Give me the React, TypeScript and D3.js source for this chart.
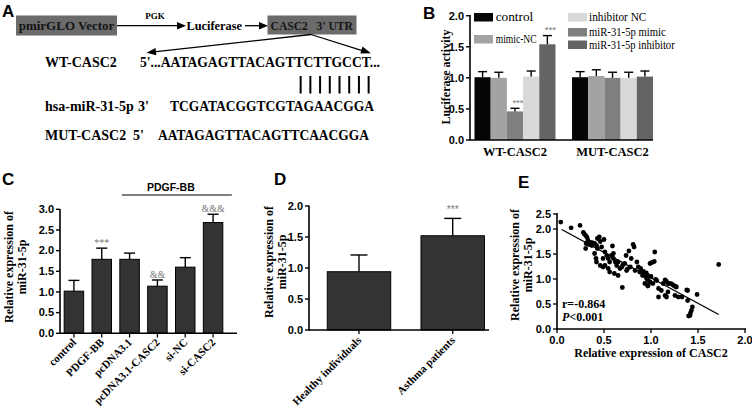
import React from "react";
import * as d3 from "d3";

const SERIF = "'Liberation Serif','Times New Roman',serif";
const SANS = "'Liberation Sans',Arial,sans-serif";

// ---------- Panel A ----------
const seqNames = ["WT-CASC2", "hsa-miR-31-5p", "MUT-CASC2"];
const seqPrimes = ["", "3'", "5'"];
const seqTexts = ["5'...AATAGAGTTACAGTTCTTGCCT...", "TCGATACGGTCGTAGAACGGA", "AATAGAGTTACAGTTCAACGGA"];
const pairedIdx = [13, 14, 15, 16, 17, 18, 19, 20];

// ---------- Panel B ----------
const bGroups = ["WT-CASC2", "MUT-CASC2"];
const bSeries = ["control", "mimic-NC", "miR-31-5p mimic", "inhibitor NC", "miR-31-5p inhibitor"];
const bColors = ["#050505", "#a3a3a3", "#7f7f7f", "#d9d9d9", "#646464"];
const bWT = [1.01, 1.0, 0.46, 1.02, 1.54];
const bWTErr = [0.09, 0.09, 0.05, 0.09, 0.14];
const bMUT = [1.01, 1.03, 1.0, 1.0, 1.02];
const bMUTErr = [0.09, 0.1, 0.09, 0.09, 0.09];
const bWTSig = ["", "", "***", "", "***"];
const bTicks = [0, 0.5, 1, 1.5, 2];

// ---------- Panel C ----------
const cCats = ["control", "PDGF-BB", "pcDNA3.1", "pcDNA3.1-CASC2", "si-NC", "si-CASC2"];
const cVals = [1.02, 1.79, 1.79, 1.14, 1.6, 2.68];
const cErr = [0.26, 0.27, 0.15, 0.15, 0.23, 0.2];
const cSig = ["", "***", "", "&&", "", "&&&"];
const cTicks = [0, 0.5, 1, 1.5, 2, 2.5, 3];

// ---------- Panel D ----------
const dCats = ["Healthy individuals", "Asthma patients"];
const dVals = [0.94, 1.52];
const dErr = [0.27, 0.28];
const dSig = ["", "***"];
const dTicks = [0, 0.5, 1, 1.5, 2];

// ---------- Panel E ----------
const eX = [0.04, 0.15, 0.245, 0.28, 0.305, 0.32, 0.31, 0.305, 0.34, 0.37, 0.4, 0.42, 0.45, 0.46, 0.5, 0.475, 0.4, 0.415, 0.42, 0.51, 0.53, 0.51, 0.49, 0.545, 0.59, 0.58, 0.6, 0.62, 0.61, 0.65, 0.635, 0.69, 0.695, 0.72, 0.735, 0.765, 0.81, 0.82, 0.79, 0.78, 0.83, 0.85, 0.865, 0.89, 0.92, 0.935, 0.955, 0.99, 0.56, 0.46,
  1.04, 1.01, 1.035, 0.935, 0.955, 0.99, 0.97, 1.02, 1.06, 1.08, 1.08, 1.11, 1.13, 1.165, 1.2, 1.24, 1.27, 1.15, 1.18, 1.165, 1.255, 1.29, 1.33, 1.39, 1.39, 1.49, 1.44, 1.43, 1.42, 1.415, 1.4, 1.72,
  0.33, 0.36, 0.43, 0.545, 0.56, 0.65, 0.67, 0.74, 0.88, 0.91, 0.97, 0.6, 0.49, 0.43, 0.965, 0.935, 0.965, 1.15, 1.18, 1.26, 1.38, 0.29, 0.38, 0.7, 0.75, 0.95, 1.0, 1.05, 1.22];
const eY = [2.23, 2.04, 2.12, 1.93, 1.87, 1.83, 1.71, 1.61, 1.69, 1.67, 1.71, 1.67, 1.84, 1.75, 1.79, 1.64, 1.51, 1.41, 1.34, 1.54, 1.47, 1.27, 1.24, 1.21, 1.66, 1.47, 1.41, 1.34, 1.11, 1.07, 1.27, 1.24, 0.83, 1.31, 1.47, 1.56, 1.69, 1.64, 1.41, 1.24, 1.17, 1.34, 1.24, 1.21, 1.15, 1.07, 1.01, 1.31, 1.14, 1.27,
  1.54, 1.33, 1.35, 1.11, 1.01, 0.94, 0.87, 0.91, 0.97, 0.81, 0.64, 0.77, 0.91, 0.95, 0.91, 0.87, 0.84, 0.67, 0.74, 0.64, 0.67, 0.64, 0.64, 0.77, 0.57, 0.69, 0.44, 0.37, 0.32, 0.27, 0.26, 1.29,
  1.77, 1.73, 1.61, 1.41, 1.34, 1.34, 1.21, 1.17, 1.14, 1.07, 0.97, 1.51, 1.41, 1.81, 1.07, 0.91, 0.86, 0.98, 0.91, 0.85, 0.78, 1.9, 1.72, 1.28, 1.2, 1.12, 1.05, 0.99, 0.9];
const eFitX = [0.05, 1.72];
const eFitY = [1.99, 0.29];
const eXTicks = [0, 0.5, 1, 1.5, 2];
const eYTicks = [0, 0.5, 1, 1.5, 2, 2.5];

const fmt = d3.format(".1f");

function YAxis({ x, y, ticks, yTop, yBot }: { x: number; y: any; ticks: number[]; yTop: number; yBot: number }) {
  return (
    <g>
      <line x1={x} x2={x} y1={yTop} y2={yBot} stroke="#000" strokeWidth={1.6} />
      {ticks.map((t) => (
        <g key={t}>
          <line x1={x - 4} x2={x} y1={y(t)} y2={y(t)} stroke="#000" strokeWidth={1.4} />
          <text x={x - 6} y={y(t)} dy="0.35em" textAnchor="end" fontFamily={SANS} fontWeight="bold" fontSize={11}>
            {fmt(t)}
          </text>
        </g>
      ))}
    </g>
  );
}

function ErrBar({ cx, y0, y1, w }: { cx: number; y0: number; y1: number; w: number }) {
  return (
    <g stroke="#000" strokeWidth={1.4}>
      <line x1={cx} x2={cx} y1={y0} y2={y1} />
      <line x1={cx - w / 2} x2={cx + w / 2} y1={y1} y2={y1} />
    </g>
  );
}

function PanelA() {
  const seqX = [140, 170, 158];
  const seqW = [240, 204, 211];
  const baselines = [66.5, 110.5, 139.5];
  const primeX = [0, 138, 133];
  const charX = d3.scaleLinear().domain([0, seqTexts[1].length]).range([seqX[1], seqX[1] + seqW[1]]);
  return (
    <g fontFamily={SERIF} fontWeight="bold">
      <text x={2} y={17} fontFamily={SANS} fontWeight="bold" fontSize={17}>A</text>
      <rect x={16} y={15.5} width={101} height={20} fill="#6b6b6b" />
      <text x={66.5} y={30} textAnchor="middle" fontSize={13} fill="#151515">pmirGLO Vector</text>
      <line x1={117} x2={179} y1={25.7} y2={25.7} stroke="#000" strokeWidth={1.3} />
      <path d="M186,25.7 L177,22 L177,29.4 Z" fill="#000" />
      <text x={155} y={19} textAnchor="middle" fontSize={9}>PGK</text>
      <text x={186.5} y={30} fontSize={13} textLength={55.5} lengthAdjust="spacingAndGlyphs">Luciferase</text>
      <line x1={245} x2={261} y1={25.7} y2={25.7} stroke="#000" strokeWidth={1.3} />
      <path d="M268,25.7 L259,22 L259,29.4 Z" fill="#000" />
      <rect x={267.5} y={15.5} width={89} height={19} fill="#6b6b6b" />
      <text x={270.5} y={30} fontSize={13} fill="#151515" textLength={82.5} lengthAdjust="spacingAndGlyphs" xmlSpace="preserve">CASC2   3' UTR</text>
      <line x1={311} y1={34.5} x2={154} y2={51.8} stroke="#000" strokeWidth={1.3} />
      <path d="M146.5,52.8 L155.5,48 L156.3,55.3 Z" fill="#000" />
      <line x1={311} y1={34.5} x2={363} y2={50.8} stroke="#000" strokeWidth={1.3} />
      <path d="M371,53.3 L362.5,46.5 L360.4,53.5 Z" fill="#000" />
      {seqNames.map((n, i) => (
        <g key={n}>
          <text x={45} y={baselines[i]} fontSize={14}>{n}</text>
          {seqPrimes[i] && (
            <text x={primeX[i]} y={baselines[i]} fontSize={14}>{seqPrimes[i]}</text>
          )}
          <text x={seqX[i]} y={baselines[i]} fontSize={14} textLength={seqW[i]} lengthAdjust="spacingAndGlyphs">
            {seqTexts[i]}
          </text>
        </g>
      ))}
      {pairedIdx.map((k) => (
        <line key={k} x1={charX(k + 0.5) - 0.5} x2={charX(k + 0.5) - 0.5} y1={76} y2={93.5} stroke="#000" strokeWidth={2} />
      ))}
    </g>
  );
}

function PanelB() {
  const y = d3.scaleLinear().domain([0, 2]).range([140, 15.7]);
  const xg = d3.scaleBand().domain(bGroups).range([474.5, 653]).paddingInner(0.17).paddingOuter(0);
  const xs = d3.scaleBand().domain(bSeries).range([0, xg.bandwidth()]);
  const groupsData = [
    { g: bGroups[0], v: bWT, e: bWTErr, s: bWTSig },
    { g: bGroups[1], v: bMUT, e: bMUTErr, s: ["", "", "", "", ""] },
  ];
  const legend = [
    { i: 0, x: 474, y: 13, tx: 495.7, w: 37.6 },
    { i: 1, x: 474, y: 35, tx: 495.7, w: 41 },
    { i: 3, x: 568, y: 13, tx: 589, w: 57.3 },
    { i: 2, x: 568, y: 28, tx: 589, w: 76.7 },
    { i: 4, x: 568, y: 40.5, tx: 589, w: 85.7 },
  ];
  return (
    <g>
      <text x={423} y={19} fontFamily={SANS} fontWeight="bold" fontSize={17}>B</text>
      {groupsData.map((gd) => (
        <g key={gd.g}>
          {bSeries.map((s, i) => {
            const x0 = (xg(gd.g) as number) + (xs(s) as number);
            const w = xs.bandwidth();
            return (
              <g key={s}>
                <rect x={x0} y={y(gd.v[i])} width={w} height={y(0) - y(gd.v[i])} fill={bColors[i]} />
                <ErrBar cx={x0 + w / 2} y0={y(gd.v[i])} y1={y(gd.v[i] + gd.e[i])} w={9} />
                {gd.s[i] && (
                  <text x={x0 + w / 2 + 3} y={y(gd.v[i] + gd.e[i]) - 2.5} textAnchor="middle" fontFamily={SANS} fontSize={9.5} fill="#777">
                    {gd.s[i]}
                  </text>
                )}
              </g>
            );
          })}
          <text x={(xg(gd.g) as number) + xg.bandwidth() / 2} y={156} textAnchor="middle" fontFamily={SERIF} fontWeight="bold" fontSize={12.5}>
            {gd.g}
          </text>
        </g>
      ))}
      <line x1={470} x2={653} y1={140} y2={140} stroke="#000" strokeWidth={1.6} />
      <YAxis x={470} y={y} ticks={bTicks} yTop={15} yBot={140.8} />
      <text transform="translate(450,77) rotate(-90)" textAnchor="middle" fontFamily={SERIF} fontWeight="bold" fontSize={12}>
        Luciferase activity
      </text>
      {legend.map((l) => (
        <g key={l.i}>
          <rect x={l.x} y={l.y} width={19} height={8.5} fill={bColors[l.i]} />
          <text x={l.tx} y={l.y + 8} fontFamily={SERIF} fontSize={12} textLength={l.w} lengthAdjust="spacingAndGlyphs">{bSeries[l.i]}</text>
        </g>
      ))}
    </g>
  );
}

function PanelC() {
  const y = d3.scaleLinear().domain([0, 3]).range([333.3, 209.3]);
  const x = d3.scaleBand().domain(cCats).range([60, 227]).paddingInner(0.3).paddingOuter(0.15);
  const bw = x.bandwidth();
  const lx1 = (x(cCats[2]) as number) + 2;
  const lx2 = (x(cCats[5]) as number) + bw + 9;
  return (
    <g>
      <text x={2} y={185} fontFamily={SANS} fontWeight="bold" fontSize={17}>C</text>
      <line x1={lx1} x2={lx2} y1={195} y2={195} stroke="#000" strokeWidth={1.2} />
      <text x={(lx1 + lx2) / 2 - 6} y={191} textAnchor="middle" fontFamily={SANS} fontWeight="bold" fontSize={10.5}>PDGF-BB</text>
      {cCats.map((c, i) => {
        const x0 = x(c) as number;
        const cx = x0 + bw / 2;
        return (
          <g key={c}>
            <rect x={x0} y={y(cVals[i])} width={bw} height={y(0) - y(cVals[i])} fill="#333" stroke="#000" strokeWidth={1} />
            <ErrBar cx={cx} y0={y(cVals[i])} y1={y(cVals[i] + cErr[i])} w={11} />
            {cSig[i] && (
              <text x={cx} y={y(cVals[i] + cErr[i]) - 2} textAnchor="middle" fontFamily={SERIF} fontSize={10} fill="#777">
                {cSig[i]}
              </text>
            )}
            <line x1={cx} x2={cx} y1={333.3} y2={337.5} stroke="#000" strokeWidth={1.3} />
            <text transform={`translate(${cx + 3},${343}) rotate(-45)`} textAnchor="end" fontFamily={SERIF} fontWeight="bold" fontSize={11}>
              {c}
            </text>
          </g>
        );
      })}
      <line x1={60} x2={237} y1={333.3} y2={333.3} stroke="#000" strokeWidth={1.6} />
      <YAxis x={60} y={y} ticks={cTicks} yTop={209} yBot={334} />
      <text transform="translate(19,267) rotate(-90)" textAnchor="middle" fontFamily={SERIF} fontWeight="bold" fontSize={12}>
        <tspan x={0} dy={-6}>Relative expression of</tspan>
        <tspan x={0} dy={13}>miR-31-5p</tspan>
      </text>
    </g>
  );
}

function PanelD() {
  const y = d3.scaleLinear().domain([0, 2]).range([330, 206]);
  const x = d3.scaleBand().domain(dCats).range([309, 502.7]).paddingInner(0.323).paddingOuter(0.195);
  const bw = x.bandwidth();
  return (
    <g>
      <text x={274} y={185} fontFamily={SANS} fontWeight="bold" fontSize={17}>D</text>
      {dCats.map((c, i) => {
        const x0 = x(c) as number;
        const cx = x0 + bw / 2;
        return (
          <g key={c}>
            <rect x={x0} y={y(dVals[i])} width={bw} height={y(0) - y(dVals[i])} fill="#333" stroke="#000" strokeWidth={1} />
            <ErrBar cx={cx} y0={y(dVals[i])} y1={y(dVals[i] + dErr[i])} w={17} />
            {dSig[i] && (
              <text x={cx} y={y(dVals[i] + dErr[i]) - 5} textAnchor="middle" fontFamily={SANS} fontSize={10} fill="#777">
                {dSig[i]}
              </text>
            )}
            <line x1={cx} x2={cx} y1={330} y2={334} stroke="#000" strokeWidth={1.3} />
            <text transform={`translate(${cx + 3},${341}) rotate(-45)`} textAnchor="end" fontFamily={SERIF} fontWeight="bold" fontSize={11}>
              {c}
            </text>
          </g>
        );
      })}
      <line x1={309} x2={489} y1={330} y2={330} stroke="#000" strokeWidth={1.6} />
      <YAxis x={309} y={y} ticks={dTicks} yTop={205.5} yBot={330.8} />
      <text transform="translate(279,262) rotate(-90)" textAnchor="middle" fontFamily={SERIF} fontWeight="bold" fontSize={12}>
        <tspan x={0} dy={-6}>Relative expression of</tspan>
        <tspan x={0} dy={13}>miR-31-5p</tspan>
      </text>
    </g>
  );
}

function PanelE() {
  const x = d3.scaleLinear().domain([0, 2]).range([557, 745]);
  const y = d3.scaleLinear().domain([0, 2, 2.5]).range([329, 229, 214]);
  return (
    <g>
      <text x={518} y={188} fontFamily={SANS} fontWeight="bold" fontSize={17}>E</text>
      {eX.map((v, i) => (
        <circle key={i} cx={x(v)} cy={y(eY[i])} r={2.4} fill="#000" />
      ))}
      <line x1={x(eFitX[0])} y1={y(eFitY[0])} x2={x(eFitX[1])} y2={y(eFitY[1])} stroke="#000" strokeWidth={1.3} />
      <line x1={557} x2={746} y1={329} y2={329} stroke="#000" strokeWidth={1.6} />
      {eXTicks.map((t) => (
        <g key={t}>
          <line x1={x(t)} x2={x(t)} y1={329} y2={333} stroke="#000" strokeWidth={1.3} />
          <text x={x(t)} y={344} textAnchor="middle" fontFamily={SANS} fontWeight="bold" fontSize={11}>{fmt(t)}</text>
        </g>
      ))}
      <line x1={557} x2={557} y1={213} y2={329.8} stroke="#000" strokeWidth={1.6} />
      {eYTicks.map((t) => (
        <g key={t}>
          <line x1={553} x2={557} y1={y(t)} y2={y(t)} stroke="#000" strokeWidth={1.3} />
          <text x={551} y={y(t)} dy="0.35em" textAnchor="end" fontFamily={SANS} fontWeight="bold" fontSize={11}>{fmt(t)}</text>
        </g>
      ))}
      <text x={651} y={357} textAnchor="middle" fontFamily={SERIF} fontWeight="bold" fontSize={12}>
        Relative expression of CASC2
      </text>
      <text transform="translate(525,265) rotate(-90)" textAnchor="middle" fontFamily={SERIF} fontWeight="bold" fontSize={12}>
        <tspan x={0} dy={-6}>Relative expression of</tspan>
        <tspan x={0} dy={13}>miR-31-5p</tspan>
      </text>
      <text x={562} y={308} fontFamily={SERIF} fontWeight="bold" fontSize={12}>r=-0.864</text>
      <text x={562} y={321} fontFamily={SERIF} fontWeight="bold" fontSize={12}>
        <tspan fontStyle="italic">P</tspan>&lt;0.001
      </text>
    </g>
  );
}

export default function App() {
  return (
    <svg width={752} height={407} style={{ position: "absolute", left: 0, top: 0, background: "#fff" }}>
      <rect width={752} height={407} fill="#fff" />
      <PanelA />
      <PanelB />
      <PanelC />
      <PanelD />
      <PanelE />
    </svg>
  );
}
